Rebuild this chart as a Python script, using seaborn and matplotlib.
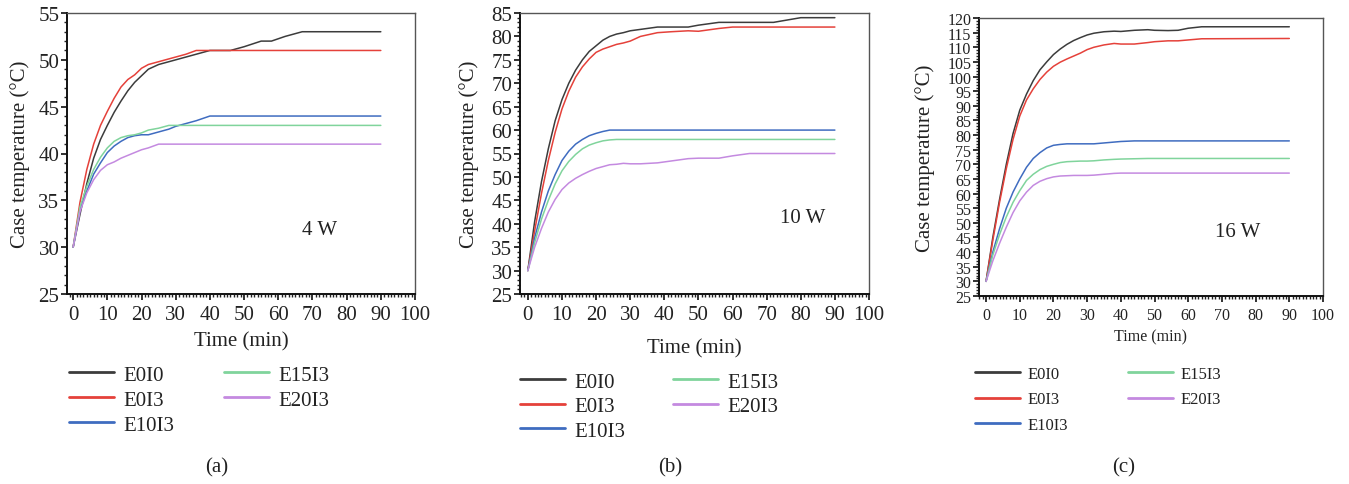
import numpy as np
import pandas as pd
import matplotlib
matplotlib.use("Agg")
import matplotlib.pyplot as plt
from matplotlib.ticker import MultipleLocator
from matplotlib.lines import Line2D
import seaborn as sns

# ---------------- data ----------------
series = ["E0I0", "E0I3", "E10I3", "E15I3", "E20I3"]

t_a = [0, 2, 4, 6, 8, 10, 12, 14, 16, 18, 20, 22, 25, 28, 30, 33, 36, 40, 46, 50, 55, 58, 62, 67, 90]
a_E0I0 = [30, 33.5, 36.8, 39.5, 41.5, 43.0, 44.4, 45.6, 46.7, 47.6, 48.3, 49.0, 49.5, 49.8, 50.0, 50.3, 50.6, 51.0, 51.0, 51.4, 52.0, 52.0, 52.5, 53.0, 53.0]
a_E0I3 = [30, 34.8, 38.3, 41.0, 43.0, 44.5, 45.9, 47.1, 47.9, 48.4, 49.1, 49.5, 49.8, 50.1, 50.3, 50.6, 51.0, 51.0, 51.0, 51.0, 51.0, 51.0, 51.0, 51.0, 51.0]
a_E10I3 = [30, 34.0, 36.0, 37.8, 39.0, 40.1, 40.8, 41.3, 41.7, 41.9, 42.0, 42.0, 42.3, 42.6, 42.9, 43.2, 43.5, 44.0, 44.0, 44.0, 44.0, 44.0, 44.0, 44.0, 44.0]
a_E15I3 = [30, 34.3, 36.5, 38.3, 39.6, 40.6, 41.3, 41.7, 41.9, 42.0, 42.2, 42.5, 42.7, 43.0, 43.0, 43.0, 43.0, 43.0, 43.0, 43.0, 43.0, 43.0, 43.0, 43.0, 43.0]
a_E20I3 = [30, 33.8, 35.8, 37.2, 38.2, 38.8, 39.1, 39.5, 39.8, 40.1, 40.4, 40.6, 41.0, 41.0, 41.0, 41.0, 41.0, 41.0, 41.0, 41.0, 41.0, 41.0, 41.0, 41.0, 41.0]

t_b = [0, 2, 4, 6, 8, 10, 12, 14, 16, 18, 20, 22, 24, 26, 28, 30, 33, 38, 42, 47, 50, 53, 56, 60, 65, 72, 76, 80, 90]
b_E0I0 = [30, 40.5, 49, 56, 62, 66.5, 70, 72.8, 75, 76.8, 78, 79.2, 80, 80.5, 80.8, 81.2, 81.5, 82, 82, 82, 82.4, 82.7, 83, 83, 83, 83, 83.5, 84, 84]
b_E0I3 = [30, 38.5, 46.5, 53.5, 59.5, 64.5, 68.3, 71.3, 73.5, 75.2, 76.6, 77.3, 77.8, 78.3, 78.6, 79.0, 80.0, 80.8, 81.0, 81.2, 81.1, 81.4, 81.7, 82, 82, 82, 82, 82, 82]
b_E10I3 = [30, 37, 42.5, 47, 50.5, 53.5, 55.5, 57, 58, 58.8, 59.3, 59.7, 60, 60, 60, 60, 60, 60, 60, 60, 60, 60, 60, 60, 60, 60, 60, 60, 60]
b_E15I3 = [30, 36, 41, 45, 48.5, 51.3, 53.3, 54.8, 56, 56.8, 57.3, 57.7, 57.9, 58, 58, 58, 58, 58, 58, 58, 58, 58, 58, 58, 58, 58, 58, 58, 58]
b_E20I3 = [30, 35, 39, 42.5, 45.2, 47.3, 48.7, 49.7, 50.5, 51.2, 51.8, 52.2, 52.6, 52.7, 52.9, 52.8, 52.8, 53, 53.4, 53.9, 54, 54, 54, 54.5, 55, 55, 55, 55, 55]

t_c = [0, 2, 4, 6, 8, 10, 12, 14, 16, 18, 20, 22, 24, 26, 28, 30, 32, 35, 38, 40, 44, 48, 50, 54, 57, 60, 64, 90]
c_E0I0 = [30, 45, 58, 70, 80.5, 88.5, 94, 98.6, 102.3, 105, 107.5, 109.4, 111, 112.3, 113.3, 114.2, 114.8, 115.3, 115.5, 115.4, 115.8, 116, 115.8, 115.7, 115.8, 116.5, 117, 117]
c_E0I3 = [30, 44, 57, 68.5, 78.5, 86.5, 92, 95.8, 99, 101.5, 103.5, 104.9, 106, 107, 108, 109.2, 110, 110.8, 111.3, 111.1, 111.1, 111.6, 111.9, 112.2, 112.2, 112.5, 112.9, 113]
c_E10I3 = [30, 40, 48, 55, 60.5, 65, 69, 72, 74, 75.6, 76.5, 76.8, 77, 77, 77, 77, 77, 77.3, 77.6, 77.8, 78, 78, 78, 78, 78, 78, 78, 78]
c_E15I3 = [30, 39, 46, 52, 57, 61, 64.5, 66.6, 68.2, 69.3, 70, 70.6, 70.9, 71, 71.1, 71.1, 71.2, 71.5, 71.7, 71.8, 71.9, 72, 72, 72, 72, 72, 72, 72]
c_E20I3 = [30, 37, 43, 48.5, 53.5, 57.5, 60.5, 62.8, 64.2, 65.1, 65.7, 66, 66.1, 66.2, 66.2, 66.2, 66.3, 66.6, 66.9, 67, 67, 67, 67, 67, 67, 67, 67, 67]

x_ticks = [0, 10, 20, 30, 40, 50, 60, 70, 80, 90, 100]
power_labels = ["4 W", "10 W", "16 W"]
panel_labels = ["(a)", "(b)", "(c)"]

colors = {"E0I0": "#3c3c3c", "E0I3": "#e5413a", "E10I3": "#3f6cc0",
          "E15I3": "#80d49c", "E20I3": "#c48ae0"}


def long_df(t, vals):
    rows = []
    for name, v in zip(series, vals):
        for ti, vi in zip(t, v):
            rows.append({"Time": ti, "Temp": vi, "Series": name})
    return pd.DataFrame(rows)


df_a = long_df(t_a, [a_E0I0, a_E0I3, a_E10I3, a_E15I3, a_E20I3])
df_b = long_df(t_b, [b_E0I0, b_E0I3, b_E10I3, b_E15I3, b_E20I3])
df_c = long_df(t_c, [c_E0I0, c_E0I3, c_E10I3, c_E15I3, c_E20I3])

# ---------------- style ----------------
sns.set_style("ticks")
plt.rcParams["font.family"] = ["Liberation Serif", "DejaVu Serif"]
plt.rcParams["text.color"] = "#222222"
plt.rcParams["axes.labelcolor"] = "#222222"
plt.rcParams["xtick.color"] = "#222222"
plt.rcParams["ytick.color"] = "#222222"

fig = plt.figure(figsize=(13.49, 4.85), dpi=100)

W, H = 1349.0, 485.0
def rect(l, t, r, b):
    return [l / W, 1 - b / H, (r - l) / W, (b - t) / H]

specs = [
    dict(df=df_a, rect=rect(67, 14, 415, 295), ylim=(25, 55), ystep=5, xlim=(-1.8, 100),
         tick_fs=15, lab_fs=15, xlab_fs=15, leg_fs=15, pw=(67, 31.9), xpad=4,
         leg_xy=(69, 366), leg_rs=0.26, leg_cs=2.4, leg_hl=2.16, xlabpad=5, ylabpad=6,
         panel_xy=(217, 468)),
    dict(df=df_b, rect=rect(520, 14, 869, 295), ylim=(25, 85), ystep=5, xlim=(-2.3, 100),
         tick_fs=15, lab_fs=15, xlab_fs=15, leg_fs=15, pw=(74, 41.4), xpad=4,
         leg_xy=(520, 373), leg_rs=0.24, leg_cs=2.3, leg_hl=2.16, xlabpad=10, ylabpad=9,
         panel_xy=(670, 468)),
    dict(df=df_c, rect=rect(979, 19, 1323, 297), ylim=(25, 120), ystep=5, xlim=(-2.1, 100),
         tick_fs=11.5, lab_fs=15, xlab_fs=11.5, leg_fs=12, pw=(68, 46.9), xpad=4,
         leg_xy=(975, 367), leg_rs=0.57, leg_cs=3.6, leg_hl=2.7, xlabpad=4, ylabpad=9,
         panel_xy=(1124, 468)),
]

for i, s in enumerate(specs):
    ax = fig.add_axes(s["rect"])
    sns.lineplot(data=s["df"], x="Time", y="Temp", hue="Series", hue_order=series,
                 palette=colors, linewidth=1.1, ax=ax, legend=False, sort=True)
    ax.set_xlim(*s["xlim"])
    ax.set_ylim(*s["ylim"])
    ax.set_xticks(x_ticks)
    ax.set_yticks(np.arange(s["ylim"][0], s["ylim"][1] + 0.1, s["ystep"]))
    ax.xaxis.set_minor_locator(MultipleLocator(1))
    ax.yaxis.set_minor_locator(MultipleLocator(1))
    ax.tick_params(axis="both", which="major", direction="out", length=4, width=1.3,
                   labelsize=s["tick_fs"])
    ax.tick_params(axis="y", which="major", pad=1.5)
    ax.tick_params(axis="x", which="major", pad=s["xpad"])
    ax.tick_params(axis="both", which="minor", direction="out", length=2.5, width=1.0)
    for side in ["left", "bottom"]:
        ax.spines[side].set_linewidth(1.4)
        ax.spines[side].set_color("#111111")
    for side in ["right", "top"]:
        ax.spines[side].set_linewidth(1.0)
        ax.spines[side].set_color("#555555")
    ax.set_xlabel("Time (min)", fontsize=s["xlab_fs"], labelpad=s["xlabpad"])
    ax.set_ylabel("Case temperature (°C)", fontsize=s["lab_fs"], labelpad=s["ylabpad"])
    ax.text(s["pw"][0], s["pw"][1], power_labels[i], fontsize=15, ha="left", va="center")

    handles = [Line2D([0], [0], color=colors[n], lw=2.0) for n in series]
    lx, ly = s["leg_xy"]
    fig.legend(handles, series, loc="upper left", bbox_to_anchor=(lx / W, 1 - ly / H),
               bbox_transform=fig.transFigure, ncol=2, frameon=False,
               fontsize=s["leg_fs"], handlelength=s["leg_hl"], handletextpad=0.45,
               columnspacing=s["leg_cs"], labelspacing=s["leg_rs"], borderpad=0, borderaxespad=0)
    fig.text(s["panel_xy"][0] / W, 1 - s["panel_xy"][1] / H, panel_labels[i],
             fontsize=15, ha="center", va="center")

fig.savefig("out.png", dpi=100)
